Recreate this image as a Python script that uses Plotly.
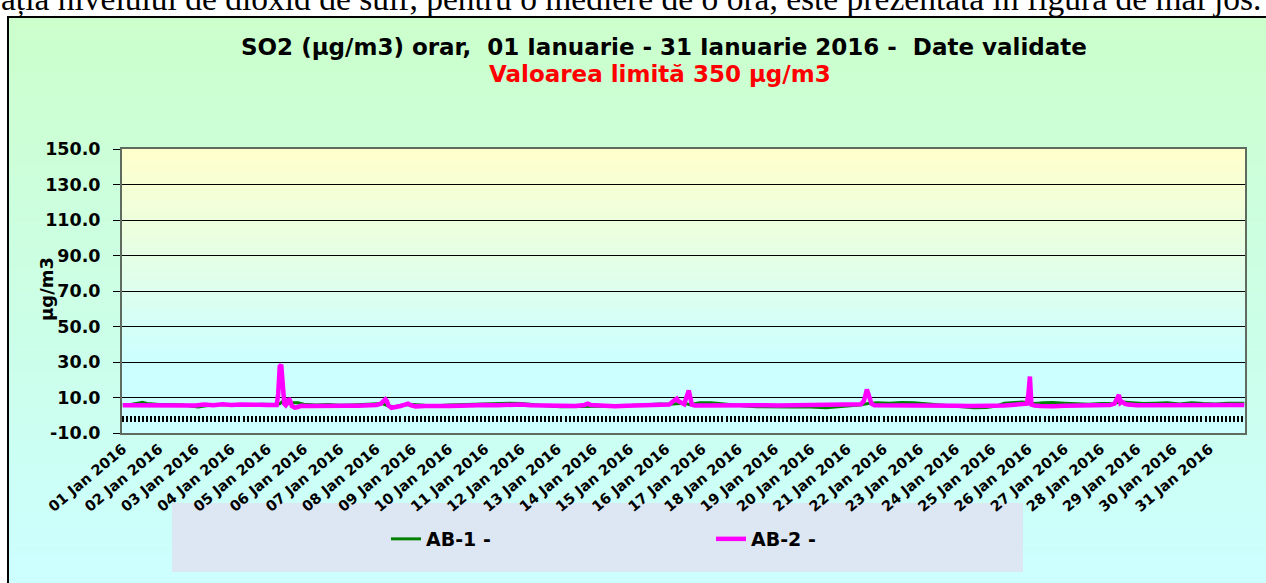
import plotly.graph_objects as go

# ---------------- data ----------------
day_labels = ["%02d Jan 2016" % d for d in range(1, 32)]
day_hours = [24 * i for i in range(31)]

ab1_hours = [0, 6, 10, 13, 16, 24, 32, 40, 46, 50, 54, 60, 68, 76, 84, 92, 100, 104, 106, 108, 110, 114, 116,
             120, 128, 136, 144, 152, 160, 168, 172, 176, 180, 186, 192, 200, 208, 216, 224, 232, 240, 248,
             256, 264, 272, 280, 290, 300, 310, 320, 330, 340, 350, 356, 362, 368, 372, 376, 382, 390, 396,
             404, 412, 420, 428, 436, 444, 452, 460, 466, 472, 480, 488, 494, 500, 508, 516, 524, 532, 540,
             548, 556, 564, 572, 578, 584, 590, 596, 600, 604, 610, 616, 624, 632, 640, 648, 656, 662, 668,
             676, 684, 692, 700, 708, 716, 724, 732, 740, 743]
ab1_values = [6.0, 6.2, 6.8, 7.3, 6.6, 6.0, 6.0, 5.8, 5.0, 4.6, 5.2, 5.8, 6.0, 5.6, 5.8, 6.2, 6.0, 6.5, 7.8, 8.2,
              7.0, 7.2, 7.0, 6.2, 5.8, 6.0, 5.6, 5.8, 6.0, 6.2, 6.6, 5.2, 4.8, 5.8, 6.0, 5.6, 5.4, 5.8, 6.0,
              6.3, 6.6, 6.4, 6.8, 6.6, 6.2, 5.4, 4.8, 4.9, 5.0, 4.8, 5.2, 5.6, 6.0, 6.4, 6.2, 6.6, 6.8, 6.0,
              7.0, 7.0, 6.4, 5.8, 5.2, 4.8, 4.6, 4.8, 4.6, 4.8, 4.4, 4.2, 4.6, 5.0, 5.8, 6.6, 7.0, 6.8, 7.2,
              7.0, 6.4, 6.0, 5.6, 4.6, 4.2, 4.3, 5.0, 6.8, 7.2, 7.4, 7.0, 6.6, 7.0, 7.2, 6.8, 6.4, 6.2, 6.6,
              6.8, 7.4, 7.0, 6.6, 6.8, 7.0, 6.4, 7.0, 6.6, 6.4, 6.8, 7.0, 6.8]

ab2_hours = [0, 8, 16, 24, 32, 40, 48, 54, 60, 66, 72, 78, 84, 90, 96, 100, 102, 103, 104, 105, 106, 107, 108,
             109, 110, 111, 112, 114, 116, 118, 124, 132, 140, 148, 156, 162, 168, 171, 173, 174, 175, 176,
             178, 181, 184, 187, 189, 191, 194, 200, 208, 216, 224, 232, 236, 240, 248, 256, 262, 264, 270,
             280, 290, 300, 306, 308, 310, 318, 326, 334, 342, 350, 358, 362, 364, 366, 367, 368, 370, 372,
             373, 374, 375, 376, 377, 379, 386, 394, 402, 410, 418, 426, 434, 442, 450, 458, 466, 474, 480,
             486, 489, 491, 492, 493, 494, 495, 496, 498, 504, 512, 520, 528, 536, 544, 552, 560, 568, 576,
             584, 590, 596, 599, 600, 601, 602, 604, 608, 612, 616, 624, 632, 640, 648, 654, 657, 658, 659,
             660, 661, 662, 664, 666, 672, 680, 688, 696, 704, 712, 720, 728, 736, 743]
ab2_values = [5.6, 5.5, 5.6, 5.5, 5.6, 5.4, 5.5, 6.0, 5.6, 6.2, 5.8, 6.1, 5.7, 5.9, 5.8, 5.6, 5.8, 12.0, 27.5,
              28.5, 16.0, 6.5, 5.6, 6.8, 9.5, 8.0, 5.2, 4.3, 4.6, 5.3, 5.2, 5.4, 5.3, 5.4, 5.3, 5.5, 5.8, 6.5,
              8.0, 9.0, 8.0, 5.5, 4.2, 4.4, 5.2, 6.0, 6.5, 5.6, 5.0, 5.2, 5.0, 5.2, 5.4, 5.6, 6.2, 5.8, 5.7,
              5.8, 6.4, 6.0, 5.6, 5.4, 5.0, 5.2, 5.8, 6.5, 5.8, 5.1, 5.0, 5.4, 5.6, 5.5, 5.6, 6.0, 7.5, 8.8,
              9.3, 8.0, 7.0, 6.2, 9.0, 13.0, 14.0, 10.0, 6.0, 5.5, 5.6, 5.6, 5.7, 5.6, 5.5, 5.6, 5.5, 5.6,
              5.5, 5.4, 5.5, 5.4, 5.6, 5.7, 6.2, 8.0, 12.5, 14.5, 12.0, 8.0, 6.5, 5.6, 5.5, 5.5, 5.6, 5.4,
              5.5, 5.2, 5.3, 5.2, 5.0, 5.4, 5.5, 5.7, 6.0, 6.5, 12.0, 21.8, 6.0, 5.5, 5.2, 4.8, 5.0, 5.3,
              5.4, 5.5, 5.6, 5.8, 6.5, 8.0, 10.5, 11.5, 7.0, 7.6, 6.4, 6.0, 5.6, 5.6, 5.6, 5.5, 5.6, 5.6,
              5.7, 5.7, 5.8, 5.8]

y_ticks = [-10, 10, 30, 50, 70, 90, 110, 130, 150]
y_tick_labels = ["-10.0", "10.0", "30.0", "50.0", "70.0", "90.0", "110.0", "130.0", "150.0"]

# ---------------- layout geometry ----------------
W, H = 1266, 583
PX0, PX1, PY0, PY1 = 122, 1245, 149, 433  # plot area in pixels (top-left origin)
YMIN, YMAX = -10, 150
N_HOURS = 744
SANS = "DejaVu Sans, Arial"


def px(x):
    return x / W


def py(y):
    return 1 - y / H


xdom = [px(PX0), px(PX1)]
ydom = [py(PY1), py(PY0)]


def lerp(c0, c1, t):
    return "rgb(%d,%d,%d)" % tuple(round(a + (b - a) * t) for a, b in zip(c0, c1))


shapes = []
# chart area background (green -> cyan)
top, bot = 17, 590
nb = 50
for i in range(nb):
    t = i / (nb - 1)
    ya = top + (bot - top) * i / nb
    yb = top + (bot - top) * (i + 1) / nb + 0.5
    shapes.append(dict(type="rect", xref="paper", yref="paper", x0=px(8), x1=px(1270),
                       y0=py(yb), y1=py(ya), fillcolor=lerp((204, 255, 204), (204, 255, 255), t),
                       line=dict(width=0), layer="below"))
# frame of chart area
shapes.append(dict(type="rect", xref="paper", yref="paper", x0=px(8), x1=px(1275), y0=py(600), y1=py(17),
                   line=dict(color="black", width=2), fillcolor="rgba(0,0,0,0)", layer="below"))
# legend box
shapes.append(dict(type="rect", xref="paper", yref="paper", x0=px(172), x1=px(1023), y0=py(572), y1=py(503),
                   fillcolor="#dde7f3", line=dict(width=0), layer="below"))
# plot-area background (yellow -> cyan)
nb2 = 50
for i in range(nb2):
    t = min(1.0, (i / (nb2 - 1)) / 0.75)
    ya = i / nb2
    yb = (i + 1) / nb2 + 0.003
    shapes.append(dict(type="rect", xref="x domain", yref="y domain", x0=0, x1=1,
                       y0=1 - min(1, yb), y1=1 - ya,
                       fillcolor=lerp((255, 255, 204), (204, 255, 255), t),
                       line=dict(width=0), layer="below"))

fig = go.Figure()
fig.add_trace(go.Scatter(x=ab1_hours, y=ab1_values, mode="lines", name="AB-1 -",
                         line=dict(color="#008000", width=3)))
fig.add_trace(go.Scatter(x=ab2_hours, y=ab2_values, mode="lines", name="AB-2 -",
                         line=dict(color="#ff00ff", width=4.5)))

zero_pos = ydom[0] + (0 - YMIN) / (YMAX - YMIN) * (ydom[1] - ydom[0])

fig.update_layout(
    width=W, height=H,
    margin=dict(l=0, r=0, t=0, b=0, autoexpand=False),
    paper_bgcolor="white",
    plot_bgcolor="rgba(0,0,0,0)",
    shapes=shapes,
    font=dict(family=SANS, color="black"),
    xaxis=dict(domain=xdom, range=[-0.5, N_HOURS - 0.5], tickmode="array", tickvals=day_hours,
               ticktext=day_labels, tickangle=-40, ticks="", showgrid=False, zeroline=False,
               showline=True, linecolor="#5f6b5f", linewidth=2, mirror=True, automargin=False,
               tickfont=dict(family=SANS, size=14.5, weight="bold", color="black")),
    xaxis2=dict(overlaying="x", anchor="free", position=zero_pos, range=[-0.5, N_HOURS - 0.5],
                tickmode="linear", tick0=0, dtick=8 / 3, ticks="outside", ticklen=6, tickwidth=2,
                tickcolor="black", showticklabels=False, showgrid=False, zeroline=False, showline=False,
                automargin=False),
    yaxis=dict(domain=ydom, range=[YMIN, YMAX], tickmode="array", tickvals=y_ticks, ticktext=y_tick_labels,
               showgrid=True, gridcolor="black", gridwidth=1, zeroline=False,
               ticks="outside", ticklen=7, tickcolor="black", showline=True, linecolor="#5f6b5f",
               linewidth=2, mirror=True, ticklabelstandoff=9, automargin=False,
               tickfont=dict(family=SANS, size=17.5, weight="bold", color="black")),
    legend=dict(orientation="h", x=px(386), y=py(539), xanchor="left", yanchor="middle",
                bgcolor="rgba(0,0,0,0)", entrywidth=280, entrywidthmode="pixels",
                font=dict(family=SANS, size=19, weight="bold", color="black")),
    showlegend=True,
)
# invisible trace to activate xaxis2
fig.add_trace(go.Scatter(x=[0], y=[None], xaxis="x2", showlegend=False, hoverinfo="skip"))

fig.add_annotation(text="SO2 (µg/m3) orar,  01 Ianuarie - 31 Ianuarie 2016 -  Date validate",
                   xref="paper", yref="paper", x=px(664), y=py(47), showarrow=False,
                   xanchor="center", yanchor="middle",
                   font=dict(family=SANS, size=23, weight="bold", color="black"))
fig.add_annotation(text="Valoarea limită 350 µg/m3", xref="paper", yref="paper", x=px(660), y=py(74),
                   showarrow=False, xanchor="center", yanchor="middle",
                   font=dict(family=SANS, size=23, weight="bold", color="#ff0000"))
fig.add_annotation(text="µg/m3", xref="paper", yref="paper", x=px(46), y=py(289), showarrow=False,
                   textangle=-90, xanchor="center", yanchor="middle",
                   font=dict(family=SANS, size=18, weight="bold", color="black"))
fig.add_annotation(text="ația nivelului de dioxid de sulf, pentru o mediere de o oră, este prezentată în figura de mai jos.",
                   xref="paper", yref="paper", x=px(1263), y=py(-1), showarrow=False,
                   xanchor="right", yanchor="middle",
                   font=dict(family="Liberation Serif, Times New Roman", size=33.5, color="black"))

fig.write_html("out.html", config={"displayModeBar": False},
               post_script="document.body.style.margin='0px';")
